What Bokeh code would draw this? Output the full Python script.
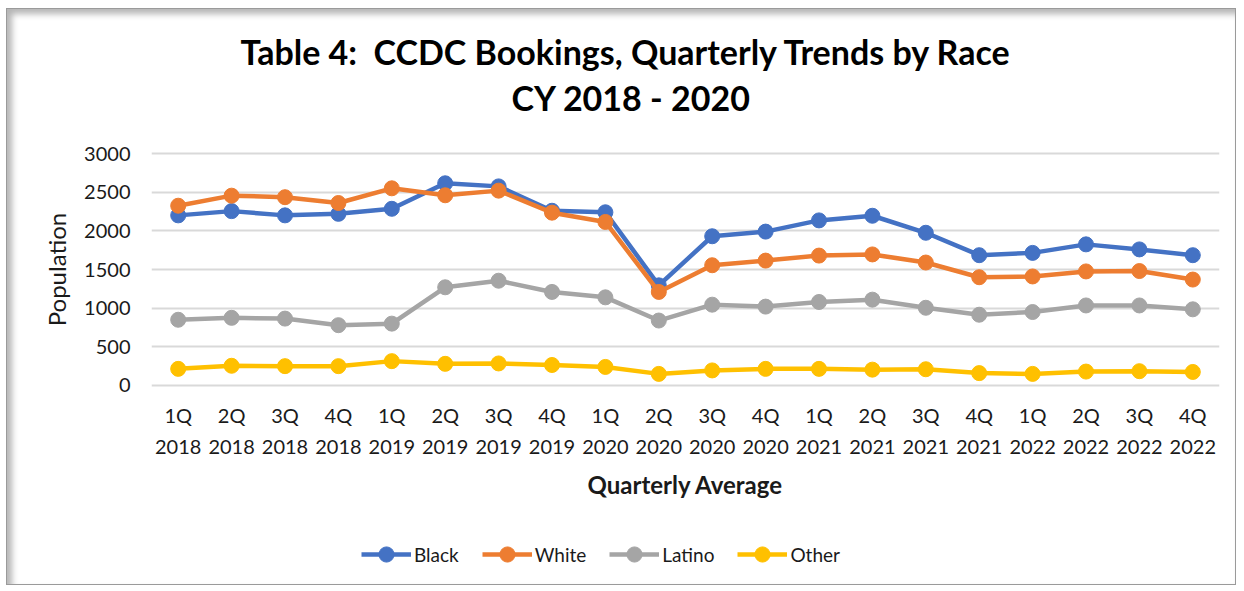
from bokeh.plotting import figure
from bokeh.models import Range1d, FixedTicker, Legend, LegendItem, Title
from bokeh.layouts import column
from bokeh.embed import file_html
from bokeh.resources import INLINE

quarters = ["1Q\n2018", "2Q\n2018", "3Q\n2018", "4Q\n2018",
            "1Q\n2019", "2Q\n2019", "3Q\n2019", "4Q\n2019",
            "1Q\n2020", "2Q\n2020", "3Q\n2020", "4Q\n2020",
            "1Q\n2021", "2Q\n2021", "3Q\n2021", "4Q\n2021",
            "1Q\n2022", "2Q\n2022", "3Q\n2022", "4Q\n2022"]
black = [2200, 2255, 2200, 2220, 2285, 2615, 2575, 2260, 2240, 1295,
         1930, 1990, 2135, 2195, 1975, 1685, 1715, 1825, 1760, 1685]
white = [2325, 2455, 2435, 2360, 2550, 2460, 2520, 2235, 2115, 1210,
         1555, 1615, 1680, 1695, 1590, 1400, 1410, 1475, 1480, 1370]
latino = [850, 875, 865, 780, 800, 1270, 1355, 1210, 1140, 840,
          1045, 1020, 1080, 1110, 1005, 915, 950, 1035, 1035, 985]
other = [215, 255, 250, 250, 315, 280, 285, 265, 240, 150,
         195, 215, 215, 205, 210, 160, 150, 180, 185, 175]
series_names = ["Black", "White", "Latino", "Other"]
series_colors = ["#4472C4", "#ED7D31", "#A5A5A5", "#FFC000"]
y_ticks = [0, 500, 1000, 1500, 2000, 2500, 3000]
title_lines = ["Table 4:\u00a0 CCDC Bookings, Quarterly Trends by Race", "CY 2018 - 2020"]

FONT = "Lato"
TXT = "#1a1a1a"

x = list(range(len(quarters)))
all_series = [black, white, latino, other]

p = figure(width=1228, height=505, output_backend="svg", toolbar_location=None,
           x_range=Range1d(-0.5, len(quarters) - 0.5),
           y_range=Range1d(-39, 3039),
           min_border_left=144, min_border_right=16,
           min_border_top=141, min_border_bottom=126)
p.outline_line_color = None
p.border_fill_alpha = 0
p.background_fill_color = "white"

p.xgrid.grid_line_color = None
p.ygrid.grid_line_color = "#d9d9d9"
p.ygrid.grid_line_width = 2
p.ygrid.ticker = FixedTicker(ticks=y_ticks)

p.yaxis.ticker = FixedTicker(ticks=y_ticks)
p.yaxis.axis_line_color = None
p.yaxis.major_tick_line_color = None
p.yaxis.minor_tick_line_color = None
p.yaxis.major_label_text_font = FONT
p.yaxis.major_label_text_font_size = "20px"
p.yaxis.major_label_text_color = TXT
p.yaxis.major_label_standoff = 15
p.yaxis.axis_label = "Population"
p.yaxis.axis_label_text_font = FONT
p.yaxis.axis_label_text_font_size = "24px"
p.yaxis.axis_label_text_font_style = "normal"
p.yaxis.axis_label_text_color = TXT
p.yaxis.axis_label_standoff = 10

p.xaxis.ticker = FixedTicker(ticks=x)
p.xaxis.major_label_overrides = {i: q for i, q in enumerate(quarters)}
p.xaxis.axis_line_color = None
p.xaxis.major_tick_line_color = None
p.xaxis.minor_tick_line_color = None
p.xaxis.major_label_text_font = FONT
p.xaxis.major_label_text_font_size = "20px"
p.xaxis.major_label_text_color = TXT
p.xaxis.major_label_text_line_height = 1.3
p.xaxis.major_label_standoff = 8
p.xaxis.axis_label = "Quarterly Average"
p.xaxis.axis_label_text_font = FONT
p.xaxis.axis_label_text_font_size = "24px"
p.xaxis.axis_label_text_font_style = "bold"
p.xaxis.axis_label_text_color = TXT
p.xaxis.axis_label_standoff = 9

for col, vals in zip(series_colors, all_series):
    p.line(x, vals, line_color=col, line_width=4.5)
    p.scatter(x, vals, size=15, fill_color=col, line_color=col)

p.title = None
# spacer between the frame and the two title lines
p.add_layout(Title(text="\u00a0", text_font_size="10px", standoff=18), "above")
p.add_layout(Title(text=title_lines[1], align="left", offset=360, text_font=FONT,
                   text_font_size="34px", text_font_style="bold",
                   text_color="#000000", standoff=3), "above")
p.add_layout(Title(text=title_lines[0], align="left", offset=89, text_font=FONT,
                   text_font_size="34px", text_font_style="bold",
                   text_color="#000000", standoff=3), "above")

# legend strip (series drawn outside its visible range, only the legend shows)
lg = figure(width=1228, height=70, output_backend="svg", toolbar_location=None,
            x_range=Range1d(-100, -99), y_range=Range1d(-100, -99),
            min_border=0)
lg.axis.visible = False
lg.grid.visible = False
lg.outline_line_color = None
lg.border_fill_alpha = 0
lg.background_fill_alpha = 0
items = []
for name, col, vals in zip(series_names, series_colors, all_series):
    r1 = lg.line(x, vals, line_color=col, line_width=4.5)
    r2 = lg.scatter(x, vals, size=15, fill_color=col, line_color=col)
    items.append(LegendItem(label=name, renderers=[r1, r2]))
legend = Legend(items=items, orientation="horizontal", location=(210, 11),
                label_text_font=FONT, label_text_font_size="19px",
                label_text_color=TXT, glyph_width=50, glyph_height=38, spacing=23,
                label_standoff=3, border_line_color=None, background_fill_alpha=0,
                padding=0, margin=0)
lg.add_layout(legend, "center")

layout = column(p, lg, spacing=0)
layout.styles = {"margin-left": "6px", "margin-top": "8px",
                 "border": "1px solid #9a9a9a",
                 "box-shadow": "inset 5px 5px 6px #b5b5b5"}

open("out.html", "w").write(file_html(layout, INLINE))
